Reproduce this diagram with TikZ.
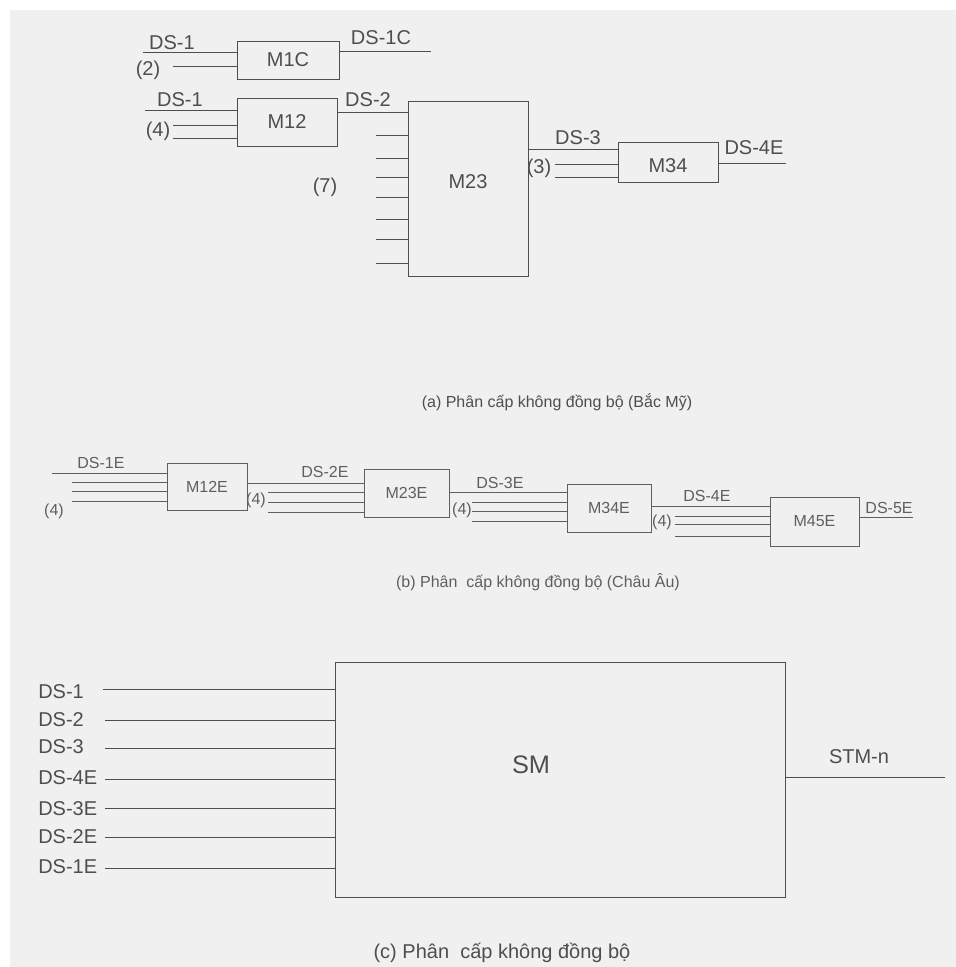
\documentclass[tikz,border=0pt]{standalone}
\usepackage{fontspec}
\setmainfont{Liberation Sans}
\definecolor{bgc}{RGB}{240,240,240}
\definecolor{ink}{RGB}{78,78,78}
\definecolor{inkb}{RGB}{95,95,95}
\newcommand\fA{\fontsize{15pt}{18pt}\selectfont}
\newcommand\fB{\fontsize{12pt}{14pt}\selectfont}
\newcommand\fSM{\fontsize{19pt}{22pt}\selectfont}
\newcommand\mybox[6]{\node[box, minimum width={(#4-#2)*0.75pt}, minimum height={(#5-#3)*0.75pt}] (#1) at ({(#2+#4)/2},{(#3+#5)/2}) {#6};}
\begin{document}
\begin{tikzpicture}[x=0.75pt,y=-0.75pt,
  box/.style={draw=ink, line width=0.75pt, inner sep=0pt, text=ink},
  wire/.style={draw=ink, line width=0.75pt},
  lbl/.style={text=ink, inner sep=0pt}]
\useasboundingbox (0,0) rectangle (956,967);
\fill[white] (0,0) rectangle (956,967);
\fill[bgc] (10,10) rectangle (956,967);

% ---------- (a) ----------
\mybox{m1c}{237}{41}{339}{79}{\fA M1C}
\mybox{m12}{237}{98}{337}{146}{\fA M12}
\mybox{m23}{408}{101}{528}{276}{\fA\raisebox{4.9pt}[\height][\depth]{M23}}
\mybox{m34}{618}{142}{718}{182}{\fA\raisebox{-3pt}[\height][\depth]{M34}}

\coordinate (a1) at (143,52); \draw[wire] (a1) -- (a1 -| m1c.west);
\coordinate (a2) at (173,66); \draw[wire] (a2) -- (a2 -| m1c.west);
\coordinate (a3) at (431,51); \draw[wire] (a3 -| m1c.east) -- (a3);
\coordinate (a4) at (145,110); \draw[wire] (a4) -- (a4 -| m12.west);
\foreach \y [count=\i] in {125,138} {\coordinate (a5\i) at (173,\y); \draw[wire] (a5\i) -- (a5\i -| m12.west);}
\coordinate (a6) at (0,112); \draw[wire] (a6 -| m12.east) -- (a6 -| m23.west);
\foreach \y [count=\i] in {135,158,177,197,219,239,263} {\coordinate (a7\i) at (376,\y); \draw[wire] (a7\i) -- (a7\i -| m23.west);}
\coordinate (a8) at (0,149); \draw[wire] (a8 -| m23.east) -- (a8 -| m34.west);
\foreach \y [count=\i] in {164,177} {\coordinate (a9\i) at (555,\y); \draw[wire] (a9\i) -- (a9\i -| m34.west);}
\coordinate (a10) at (786,163); \draw[wire] (a10 -| m34.east) -- (a10);

\node[lbl,font=\fA] (la1) at (172,43) {DS-1};
\node[lbl,font=\fA] (la2) at (148,70) {(2)};
\node[lbl,font=\fA] (la3) at (381,38) {DS-1C};
\node[lbl,font=\fA] (la4) at (180,100) {DS-1};
\node[lbl,font=\fA] (la5) at (158,131) {(4)};
\node[lbl,font=\fA] (la6) at (368,100) {DS-2};
\node[lbl,font=\fA] (la7) at (325,187) {(7)};
\node[lbl,font=\fA] (la8) at (578,138) {DS-3};
\node[lbl,font=\fA] (la9) at (539,168) {(3)};
\node[lbl,font=\fA] (la10) at (754,148) {DS-4E};
\node[lbl,font=\fB] (capa) at (557,402) {(a) Phân cấp không đồng bộ (Bắc Mỹ)};

% ---------- (b) ----------
\begin{scope}[box/.append style={draw=inkb, text=inkb}, wire/.append style={draw=inkb}, lbl/.append style={text=inkb}]
\mybox{m12e}{167}{463}{247}{510}{\fB M12E}
\mybox{m23e}{364}{469}{449}{517}{\fB M23E}
\mybox{m34e}{567}{484}{651}{532}{\fB M34E}
\mybox{m45e}{770}{497}{859}{546}{\fB M45E}

\coordinate (b1) at (52,473); \draw[wire] (b1) -- (b1 -| m12e.west);
\foreach \y [count=\i] in {482,491,501} {\coordinate (b2\i) at (72,\y); \draw[wire] (b2\i) -- (b2\i -| m12e.west);}
\coordinate (b3) at (0,483); \draw[wire] (b3 -| m12e.east) -- (b3 -| m23e.west);
\foreach \y [count=\i] in {492,502,512} {\coordinate (b4\i) at (268,\y); \draw[wire] (b4\i) -- (b4\i -| m23e.west);}
\coordinate (b5) at (0,492); \draw[wire] (b5 -| m23e.east) -- (b5 -| m34e.west);
\foreach \y [count=\i] in {502,511,521} {\coordinate (b6\i) at (472,\y); \draw[wire] (b6\i) -- (b6\i -| m34e.west);}
\coordinate (b7) at (0,506); \draw[wire] (b7 -| m34e.east) -- (b7 -| m45e.west);
\foreach \y [count=\i] in {516,524,536} {\coordinate (b8\i) at (675,\y); \draw[wire] (b8\i) -- (b8\i -| m45e.west);}
\coordinate (b9) at (913,517); \draw[wire] (b9 -| m45e.east) -- (b9);

\node[lbl,font=\fB] (lb1) at (101,463) {DS-1E};
\node[lbl,font=\fB] (lb2) at (54,511) {(4)};
\node[lbl,font=\fB] (lb3) at (325,472) {DS-2E};
\node[lbl,font=\fB] (lb4) at (256,500) {(4)};
\node[lbl,font=\fB] (lb5) at (500,483) {DS-3E};
\node[lbl,font=\fB] (lb6) at (462,510) {(4)};
\node[lbl,font=\fB] (lb7) at (707,496) {DS-4E};
\node[lbl,font=\fB] (lb8) at (662,522) {(4)};
\node[lbl,font=\fB] (lb9) at (889,508) {DS-5E};
\node[lbl,font=\fB] (capb) at (538,582) {(b) Phân\ \ cấp không đồng bộ (Châu Âu)};
\end{scope}

% ---------- (c) ----------
\mybox{sm}{335}{662}{785}{897}{\fSM\raisebox{10.9pt}[\height][\depth]{SM}\rule{43.5pt}{0pt}}
\foreach \ly/\wy/\wx/\t [count=\i] in {692/689/103/DS-1, 720/720/105/DS-2, 747/748/105/DS-3, 778/779/105/DS-4E, 809/808/105/DS-3E, 837/837/105/DS-2E, 867/868/105/DS-1E} {
  \node[lbl,font=\fA,anchor=west] (lc\i) at (38,\ly) {\t};
  \coordinate (c\i) at (\wx,\wy);
  \draw[wire] (c\i) -- (c\i -| sm.west);
}
\coordinate (cout) at (945,777); \draw[wire] (cout -| sm.east) -- (cout);
\node[lbl,font=\fA] (lstm) at (859,757) {STM-n};
\node[lbl,font=\fA] (capc) at (502,953) {(c) Phân\ \ cấp không đồng bộ};
\end{tikzpicture}
\end{document}
